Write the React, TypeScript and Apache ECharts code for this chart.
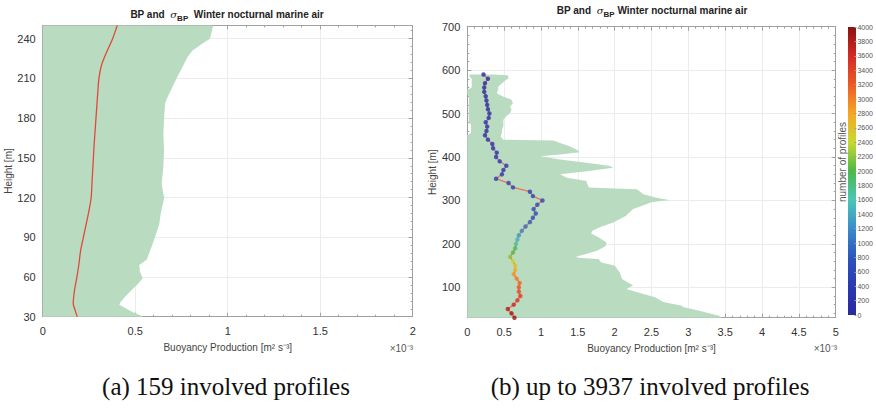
import React, { useEffect, useRef } from 'react';
import * as echarts from 'echarts';

// ---------- Left panel (a) ----------
const leftMeanH = [30, 35, 40, 50, 60, 70, 80, 90, 100, 110, 120, 130, 140, 150, 160, 170, 180, 190, 200, 210, 220, 230, 240, 250];
const leftMeanBP = [0.187, 0.175, 0.165, 0.172, 0.185, 0.196, 0.205, 0.22, 0.235, 0.25, 0.262, 0.266, 0.27, 0.274, 0.278, 0.283, 0.288, 0.293, 0.298, 0.304, 0.318, 0.346, 0.378, 0.403];
const leftSigmaH = [30, 34, 39, 41, 45, 50, 55, 59, 64, 69, 73, 83, 90, 100, 108, 120, 123, 130, 143, 156, 168, 181, 191, 197, 204, 210, 219, 226, 231, 236, 240, 250];
const leftSigmaUpper = [0.544, 0.48, 0.414, 0.42, 0.445, 0.48, 0.517, 0.54, 0.526, 0.522, 0.562, 0.589, 0.607, 0.63, 0.638, 0.657, 0.652, 0.643, 0.652, 0.656, 0.652, 0.657, 0.661, 0.679, 0.703, 0.724, 0.757, 0.782, 0.81, 0.86, 0.904, 0.922];

// ---------- Right panel (b) ----------
const rightH = [30, 40, 50, 60, 70, 80, 90, 100, 110, 120, 130, 140, 150, 160, 170, 180, 190, 200, 210, 220, 230, 240, 250, 260, 270, 280, 290, 300, 310, 320, 330, 340, 350, 360, 370, 380, 390, 400, 410, 420, 430, 440, 450, 460, 470, 480, 490, 500, 510, 520, 530, 540, 550, 560, 570, 580, 590];
const rightBP = [0.64, 0.60, 0.55, 0.63, 0.68, 0.72, 0.70, 0.70, 0.71, 0.67, 0.63, 0.65, 0.65, 0.62, 0.58, 0.62, 0.65, 0.66, 0.68, 0.70, 0.74, 0.79, 0.85, 0.89, 0.93, 0.90, 0.95, 1.02, 0.89, 0.85, 0.62, 0.56, 0.39, 0.47, 0.49, 0.53, 0.44, 0.39, 0.40, 0.35, 0.34, 0.28, 0.24, 0.26, 0.27, 0.25, 0.29, 0.30, 0.28, 0.27, 0.26, 0.25, 0.23, 0.23, 0.24, 0.28, 0.22];
const rightCount = [3937, 3880, 3800, 3650, 3520, 3420, 3320, 3220, 3100, 3000, 2880, 2700, 2560, 2400, 2200, 2050, 1900, 1720, 1500, 1320, 1150, 980, 870, 800, 760, 720, 680, 650, 620, 590, 560, 540, 510, 490, 470, 450, 430, 410, 390, 370, 350, 330, 310, 290, 270, 250, 230, 210, 190, 170, 150, 130, 110, 90, 70, 50, 30];
const rightSigmaH = [30, 31, 35, 46, 54, 58, 66, 77, 88, 96, 104, 119, 134, 150, 157, 165, 168, 171, 176, 184, 195, 203, 215, 224, 230, 238, 249, 264, 280, 291, 296, 301, 306, 314, 321, 326, 330, 341, 345, 352, 360, 367, 375, 379, 387, 394, 402, 406, 411, 417, 425, 432, 438, 440, 448, 455, 463, 471, 478, 486, 494, 501, 509, 516, 524, 532, 539, 547, 555, 562, 570, 582, 588, 590];
const rightSigmaUpper = [3.45, 3.45, 3.4, 3.15, 2.94, 2.9, 2.66, 2.55, 2.32, 2.16, 2.25, 2.1, 2.07, 2.0, 1.82, 1.78, 1.5, 1.48, 1.6, 1.76, 1.88, 1.89, 1.78, 1.68, 1.70, 1.80, 1.98, 2.15, 2.25, 2.43, 2.5, 2.74, 2.57, 2.39, 2.34, 2.3, 1.65, 1.62, 1.62, 1.35, 1.26, 1.62, 1.98, 1.94, 1.62, 1.26, 0.99, 1.26, 1.53, 1.48, 1.39, 1.26, 1.17, 0.49, 0.45, 0.47, 0.47, 0.49, 0.49, 0.49, 0.53, 0.58, 0.60, 0.58, 0.62, 0.60, 0.49, 0.40, 0.42, 0.42, 0.47, 0.56, 0.55, 0.35];
const rightSigmaLowerH = [590, 585, 580, 560, 555, 545, 540, 478, 475, 455, 450, 30];
const rightSigmaLower = [0.03, 0.03, 0.06, 0.06, 0, 0, 0.02, 0.02, 0.05, 0.05, 0, 0];

const leftYTicks = { min: 30, max: 250, interval: 30 };
const rightYRange = { min: 30, max: 700 };
const rightYTickValues = [100, 200, 300, 400, 500, 600, 700];
const rightYMinorValues = [40, 60, 80, 120, 140, 160, 180, 220, 240, 260, 280, 320, 340, 360, 380, 420, 440, 460, 480, 520, 540, 560, 580, 620, 640, 660, 680];
const colorbarRange = { min: 0, max: 4000, interval: 200 };
const jetColors = ['#2a2a9e', '#2a38b4', '#2d55bb', '#3a8ccc', '#4cc7b5', '#4cb848', '#c9d932', '#f6a623', '#ed5a24', '#d42a26', '#8a1212'];

const GREEN = '#b9dcc1';
const AX = '#a0a0a0';
const GRIDC = '#ececec';
const FONT = '"Liberation Sans", Arial, sans-serif';

export default function App() {
  const ref = useRef<HTMLDivElement>(null);

  useEffect(() => {
    const chart = echarts.init(ref.current as HTMLDivElement, null, { renderer: 'svg' });

    const leftPoly: number[][] = [];
    leftSigmaH.forEach((h, i) => leftPoly.push([leftSigmaUpper[i], h]));
    leftPoly.push([0, leftSigmaH[leftSigmaH.length - 1]]);
    leftPoly.push([0, leftSigmaH[0]]);

    const rightPoly: number[][] = [];
    rightSigmaH.forEach((h, i) => rightPoly.push([rightSigmaUpper[i], h]));
    rightSigmaLowerH.forEach((h, i) => rightPoly.push([rightSigmaLower[i], h]));

    const polySeries = (poly: number[][], xi: number, yi: number) => ({
      type: 'custom',
      coordinateSystem: 'cartesian2d',
      xAxisIndex: xi,
      yAxisIndex: yi,
      silent: true,
      z: 1,
      data: [[0, poly[0][1]]],
      encode: { x: 0, y: 1 },
      renderItem: (_p: any, api: any) => ({
        type: 'polygon',
        shape: { points: poly.map((pt) => api.coord(pt)) },
        style: { fill: GREEN, stroke: 'none' },
      }),
    });

    const tickStyle = {
      axisTick: { show: true, inside: true, length: 4, lineStyle: { color: AX } },
      minorTick: { show: true, splitNumber: 5, length: 2, lineStyle: { color: AX } },
      axisLine: { show: true, onZero: false, lineStyle: { color: AX, width: 1 } },
    };
    const labelStyle = { color: '#333', fontSize: 11, fontFamily: FONT };
    const nameStyle = { color: '#444', fontSize: 10, fontFamily: FONT };

    const mainX = (grid: number, max: number, pos: 'bottom' | 'top') => ({
      type: 'value', gridIndex: grid, min: 0, max, interval: 0.5, position: pos,
      ...tickStyle,
      axisLabel: pos === 'bottom' ? { ...labelStyle, margin: 9 } : { show: false },
      splitLine: { show: pos === 'bottom', lineStyle: { color: GRIDC } },
      name: pos === 'bottom' ? 'Buoyancy Production [m² s⁻³]' : '',
      nameLocation: 'middle', nameGap: 26, nameTextStyle: nameStyle,
    });
    const leftY = (pos: 'left' | 'right') => ({
      type: 'value', gridIndex: 0, min: leftYTicks.min, max: leftYTicks.max, interval: leftYTicks.interval, position: pos,
      ...tickStyle,
      axisLabel: pos === 'left' ? { ...labelStyle, margin: 7, showMaxLabel: false } : { show: false },
      splitLine: { show: pos === 'left', lineStyle: { color: GRIDC } },
      name: pos === 'left' ? 'Height [m]' : '',
      nameLocation: 'middle', nameGap: 28, nameTextStyle: nameStyle,
    });
    const rightY = (pos: 'left' | 'right') => ({
      type: 'value', gridIndex: 1, min: rightYRange.min, max: rightYRange.max, position: pos,
      axisLine: { show: true, onZero: false, lineStyle: { color: AX, width: 1 } },
      axisTick: { show: true, inside: true, length: 4, lineStyle: { color: AX }, customValues: rightYTickValues },
      minorTick: { show: false },
      axisLabel: pos === 'left' ? { ...labelStyle, margin: 7, customValues: rightYTickValues } : { show: false, customValues: rightYTickValues },
      splitLine: { show: pos === 'left', lineStyle: { color: GRIDC } },
      name: pos === 'left' ? 'Height [m]' : '',
      nameLocation: 'middle', nameGap: 30, nameTextStyle: nameStyle,
    });
    const rightYMinor = (pos: 'left' | 'right') => ({
      type: 'value', gridIndex: 1, min: rightYRange.min, max: rightYRange.max, position: pos,
      axisLine: { show: false, onZero: false },
      axisTick: { show: true, inside: true, length: 2, lineStyle: { color: AX }, customValues: rightYMinorValues },
      axisLabel: { show: false, customValues: rightYMinorValues },
      splitLine: { show: false },
    });

    const graphicText = (x: number, y: number, text: string, style: any, extra: any = {}) => ({
      type: 'text', x, y, ...extra,
      style: { text, align: 'center', verticalAlign: 'middle', textAlign: 'center', textVerticalAlign: 'middle', ...style },
    });

    const titleRich = {
      b: { fontSize: 10, fontWeight: 'bold', fontFamily: FONT, fill: '#222', lineHeight: 16, verticalAlign: 'middle' },
      s: { fontSize: 10, fontStyle: 'italic', fontFamily: '"DejaVu Serif", serif', fill: '#222', lineHeight: 16, verticalAlign: 'middle' },
      sub: { fontSize: 8, fontWeight: 'bold', fontFamily: FONT, fill: '#222', lineHeight: 8, verticalAlign: 'bottom' },
    };
    const captionFont = '"Liberation Serif", "Times New Roman", serif';

    const option: any = {
      animation: false,
      textStyle: { fontFamily: FONT },
      grid: [
        { left: 42.7, top: 25.4, width: 370, height: 291.3 },
        { left: 467.3, top: 26.7, width: 368.4, height: 291 },
        { left: 848, top: 27, width: 8, height: 288 },
      ],
      xAxis: [
        mainX(0, 2, 'bottom'),
        mainX(0, 2, 'top'),
        mainX(1, 5, 'bottom'),
        mainX(1, 5, 'top'),
        { type: 'value', gridIndex: 2, min: 0, max: 1, show: false },
      ],
      yAxis: [
        leftY('left'),
        leftY('right'),
        rightY('left'),
        rightY('right'),
        {
          type: 'value', gridIndex: 2, min: colorbarRange.min, max: colorbarRange.max, interval: colorbarRange.interval,
          position: 'right',
          axisLine: { show: false, onZero: false },
          axisTick: { show: true, length: 2, lineStyle: { color: '#999' } },
          axisLabel: { color: '#555', fontSize: 7, margin: 3, fontFamily: FONT, formatter: (v: number) => String(v) },
          splitLine: { show: false },
        },
        rightYMinor('left'),
        rightYMinor('right'),
      ],
      visualMap: {
        show: false, type: 'continuous', min: colorbarRange.min, max: colorbarRange.max,
        dimension: 2, seriesIndex: 4, inRange: { color: jetColors },
      },
      graphic: [
        {
          type: 'rect', shape: { x: 848, y: 27, width: 8, height: 288 },
          style: {
            fill: new echarts.graphic.LinearGradient(0, 1, 0, 0,
              jetColors.map((c, i) => ({ offset: i / (jetColors.length - 1), color: c }))),
          },
        },
        graphicText(842, 162, 'number of profiles', { fontSize: 10, fill: '#555', fontFamily: FONT }, { rotation: Math.PI / 2 }),
        graphicText(227, 14, '{b|BP and  }{s|σ}{sub|BP}{b|  Winter nocturnal marine air}', { rich: titleRich }),
        graphicText(652, 10, '{b|BP and  }{s|σ}{sub|BP}{b| Winter nocturnal marine air}', { rich: titleRich }),
        graphicText(413, 348, '×10⁻³', { fontSize: 10, fill: '#555', fontFamily: FONT, align: 'right', textAlign: 'right' }),
        graphicText(837, 348, '×10⁻³', { fontSize: 10, fill: '#555', fontFamily: FONT, align: 'right', textAlign: 'right' }),
        graphicText(226, 386, '(a) 159 involved profiles', { fontSize: 25, fill: '#111', fontFamily: captionFont }),
        graphicText(650, 386, '(b) up to 3937 involved profiles', { fontSize: 25, fill: '#111', fontFamily: captionFont }),
      ],
      series: [
        polySeries(leftPoly, 0, 0),
        {
          type: 'line', xAxisIndex: 0, yAxisIndex: 0, z: 3, showSymbol: false, silent: true, smooth: 0.3,
          data: leftMeanH.map((h, i) => [leftMeanBP[i], h]),
          lineStyle: { color: '#e2473a', width: 1.3 },
        },
        polySeries(rightPoly, 2, 2),
        {
          type: 'line', xAxisIndex: 2, yAxisIndex: 2, z: 3, showSymbol: false, silent: true,
          data: rightH.map((h, i) => [rightBP[i], h]),
          lineStyle: { color: '#e8745f', width: 1.3 },
        },
        {
          type: 'scatter', xAxisIndex: 2, yAxisIndex: 2, z: 4, silent: true, symbolSize: 4.5,
          data: rightH.map((h, i) => [rightBP[i], h, rightCount[i]]),
        },
      ],
    };

    chart.setOption(option);
    return () => chart.dispose();
  }, []);

  return <div ref={ref} style={{ position: 'fixed', left: 0, top: 0, width: 876, height: 409, background: '#fff' }} />;
}
